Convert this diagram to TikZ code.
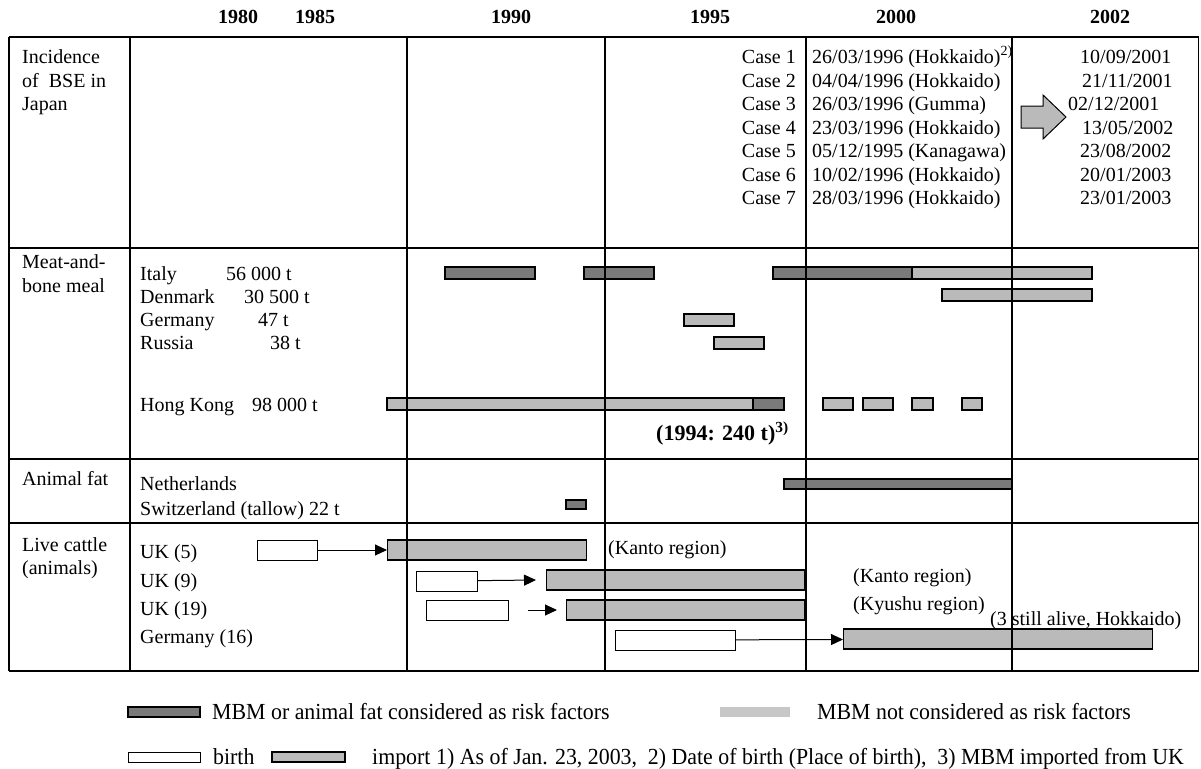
\documentclass[tikz,border=0pt]{standalone}
\usepackage{fontspec}
\setmainfont{Liberation Serif}
\newfontfamily\legendfont[FakeStretch=0.95]{Liberation Serif}
\usetikzlibrary{arrows.meta}

\begin{document}
\begin{tikzpicture}
  [x=1pt,y=-1pt
  ,font=\fontsize{20}{23}\selectfont
  ,txt/.style={inner sep=0pt,anchor=base west}
  ,yr/.style={inner sep=0pt,anchor=base,font=\fontsize{20}{23}\selectfont\bfseries}
  ,lgd/.style={inner sep=0pt,anchor=base west,font=\legendfont\fontsize{23}{25}\selectfont}
  ,risk/.style={draw=black,line width=1.2pt,fill=black!52}
  ,norisk/.style={draw=black,line width=1.2pt,fill=black!27}
  ,birthbox/.style={draw=black,line width=1pt,fill=white,inner sep=0pt,minimum height=20pt,anchor=west}
  ,importbar/.style={draw=black,line width=1.2pt,fill=black!27,inner sep=0pt,minimum height=20pt,anchor=west}
  ,grd/.style={line width=1.4pt}
  ,frm/.style={line width=2.6pt}
  ,link/.style={line width=1pt,-{Triangle[length=12pt,width=11pt]}}
  ]
  \useasboundingbox (0,0) rectangle (1201,768);

  % years
  \foreach \yx/\yl in {238/1980,315/1985,511/1990,710/1995,896/2000,1110/2002}
    \node[yr] (y\yl) at (\yx,24) {\yl};

  % categories
  \node[txt] (cat1a) at (22,63.5) {Incidence};
  \node[txt] (cat1b) at (22,87) {of\ \ BSE in};
  \node[txt] (cat1c) at (22,110.5) {Japan};
  \node[txt] (cat2a) at (22,268.5) {Meat-and-};
  \node[txt] (cat2b) at (22,292.5) {bone meal};
  \node[txt] (cat3) at (22,485.5) {Animal fat};
  \node[txt] (cat4a) at (22,551.5) {Live cattle};
  \node[txt] (cat4b) at (22,574.5) {(animals)};

  % cases
  \foreach \k in {1,...,7}
    \node[inner sep=0pt,anchor=base east] (case\k) at (796,{63.5+23.5*(\k-1)}) {Case \k};
  \node[txt] (born1) at (812,63.5) {26/03/1996 (Hokkaido)\textsuperscript{2)}};
  \node[txt] (born2) at (812,87) {04/04/1996 (Hokkaido)};
  \node[txt] (born3) at (812,110.5) {26/03/1996 (Gumma)};
  \node[txt] (born4) at (812,134) {23/03/1996 (Hokkaido)};
  \node[txt] (born5) at (812,157.5) {05/12/1995 (Kanagawa)};
  \node[txt] (born6) at (812,181) {10/02/1996 (Hokkaido)};
  \node[txt] (born7) at (812,204.5) {28/03/1996 (Hokkaido)};
  \node[txt] (found1) at (1080,63.5) {10/09/2001};
  \node[txt] (found2) at (1082,87) {21/11/2001};
  \node[txt] (found3) at (1068,110.5) {02/12/2001};
  \node[txt] (found4) at (1082,134) {13/05/2002};
  \node[txt] (found5) at (1080,157.5) {23/08/2002};
  \node[txt] (found6) at (1080,181) {20/01/2003};
  \node[txt] (found7) at (1080,204.5) {23/01/2003};
  \filldraw[line width=1pt,fill=black!27] (1021,106) -- (1043,106) -- (1043,95) -- (1066,117)
    -- (1043,139) -- (1043,128) -- (1021,128) -- cycle;

  % meat-and-bone meal
  \node[txt] (it) at (140,280) {Italy};
  \node[txt] (itq) at (226,280) {56 000 t};
  \node[txt] (dk) at (140,303) {Denmark};
  \node[txt] (dkq) at (244,303) {30 500 t};
  \node[txt] (de) at (140,326) {Germany};
  \node[txt] (deq) at (258,326) {47 t};
  \node[txt] (ru) at (140,349) {Russia};
  \node[txt] (ruq) at (270,349) {38 t};
  \node[txt] (hk) at (140,411) {Hong Kong};
  \node[txt] (hkq) at (252,411) {98 000 t};
  \foreach \a/\b/\y in {912/1092/273,942/1092/295,684/734/320,714/764/343,387/753/404,
                        823/853/404,863/893/404,912/933/404,962/982/404}
    \draw[norisk] (\a,\y-6) rectangle (\b,\y+6);
  \foreach \a/\b/\y in {445/535/273,584/654/273,773/912/273,753/784/404}
    \draw[risk] (\a,\y-6) rectangle (\b,\y+6);
  \node[txt,font=\fontsize{22}{24}\selectfont\bfseries] (uk94) at (656,440) {(1994: 240 t)\textsuperscript{3)}};

  % animal fat
  \node[txt] (nl) at (140,490) {Netherlands};
  \node[txt] (ch) at (140,515) {Switzerland (tallow) 22 t};
  \draw[risk] (784,479) rectangle (1012,489);
  \draw[risk] (566,500) rectangle (586,509);

  % live cattle
  \node[txt] (uk5) at (140,558) {UK (5)};
  \node[txt] (uk9) at (140,587) {UK (9)};
  \node[txt] (uk19) at (140,615) {UK (19)};
  \node[txt] (de16) at (140,643) {Germany (16)};
  \node[birthbox,minimum width=60pt] (b5) at (257,550) {};
  \node[importbar,minimum width=199pt] (i5) at (387,550) {};
  \node[birthbox,minimum width=61pt] (b9) at (416,581) {};
  \node[importbar,minimum width=258pt] (i9) at (546,580) {};
  \node[birthbox,minimum width=82pt] (b19) at (426,610) {};
  \node[importbar,minimum width=238pt] (i19) at (566,610) {};
  \node[birthbox,minimum width=120pt] (b16) at (615,640) {};
  \node[importbar,minimum width=309pt] (i16) at (843,639) {};
  \draw[link] (b5) -- (i5);
  \draw[link] (b9) -- ([xshift=-10pt]i9.west);
  \draw[link] ([xshift=19pt]b19.east) -- ([xshift=-9pt]i19.west);
  \draw[link] (b16) -- (i16);
  \node[txt] (kanto1) at (608,554) {(Kanto region)};
  \node[txt] (kanto2) at (853,582) {(Kanto region)};
  \node[txt] (kyushu) at (853,610) {(Kyushu region)};
  \node[txt] (alive) at (990,625) {(3 still alive, Hokkaido)};

  % grid
  \foreach \gx in {130,407,605,806,1012}
    \draw[grd] (\gx,37) -- (\gx,671);
  \foreach \gy in {248,459,523}
    \draw[grd] (9,\gy) -- (1199,\gy);
  \draw[frm] (9,37) -- (1199,37);
  \draw[frm] (9,671) -- (1199,671);
  \draw[line width=2pt] (9,37) -- (9,671);
  \draw[line width=1pt] (1198,37) -- (1198,671);

  % legend
  \draw[risk] (128,707) rectangle (200,717);
  \node[lgd] (lrisk) at (212,719) {MBM or animal fat considered as risk factors};
  \fill[black!22] (720,707) rectangle (790,717);
  \node[lgd] (lnorisk) at (817,719) {MBM not considered as risk factors};
  \draw[line width=1pt] (128,752) rectangle (200,762);
  \node[lgd] (lbirth) at (213,764) {birth};
  \draw[norisk] (272,752) rectangle (345,762);
  \node[lgd] (limport) at (372,764) {import};
  \node[lgd] (lnotes) at (436,764) {1) As of Jan. 23, 2003,\ \ 2) Date of birth (Place of birth),\ \ 3) MBM imported from UK};
\end{tikzpicture}
\end{document}
